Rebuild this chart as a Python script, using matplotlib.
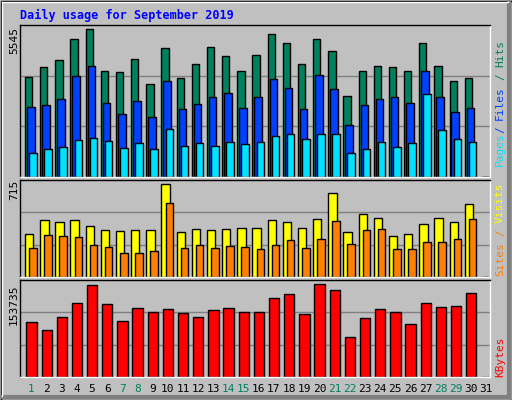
import matplotlib
matplotlib.use("Agg")
import matplotlib.pyplot as plt
from matplotlib.patches import Rectangle

days = list(range(1, 32))
hits = [3750,4110,4370,5165,5545,3960,3920,4440,3495,4820,3720,4250,4890,4550,3960,4590,
        5350,5010,4250,5190,4740,3040,3985,4170,4135,3985,5040,4170,3610,3720,0]
files = [2640,2680,2940,3770,4145,2790,2375,2855,2250,3605,2550,2740,3005,3155,2600,3005,
         3690,3345,2550,3835,3310,1950,2715,2940,3005,2790,3985,3005,2440,2600,0]
pages = [900,1055,1130,1395,1470,1345,1080,1270,1045,1795,1155,1270,1155,1310,1230,1310,
         1530,1610,1420,1610,1610,900,1055,1310,1130,1270,3125,1765,1420,1310,0]
sites = [326,435,420,435,389,357,350,357,357,715,342,365,357,365,373,373,
         435,420,373,443,645,342,482,451,311,326,404,451,420,559,0]
visits = [225,319,311,303,249,233,186,186,202,567,225,249,225,241,233,218,
          249,280,225,295,427,256,357,365,218,218,272,272,295,443,0]
kbytes = [91450,78000,98200,121700,152000,120000,93100,113300,106600,111600,104900,98200,
          110000,113300,106600,106600,130150,136900,103200,153735,143600,66200,96500,111600,
          106600,88100,121700,115000,116700,138600,0]
weekend = [1,7,8,14,15,21,22,28,29]

W, H = 512, 400
fig = plt.figure(figsize=(W/100, H/100), dpi=100, facecolor="#C0C0C0")
mono = "DejaVu Sans Mono"

def ax_at(x0, y0, x1, y1):
    a = fig.add_axes([x0/W, 1-y1/H, (x1-x0)/W, (y1-y0)/H])
    a.set_facecolor("#C0C0C0")
    a.set_xlim(0, 31)
    a.set_xticks([]); a.set_yticks([])
    for s in a.spines.values():
        s.set_linewidth(1)
    a.spines["left"].set_color("black"); a.spines["top"].set_color("black")
    a.spines["right"].set_color("white"); a.spines["bottom"].set_color("white")
    return a

def grid(a, ymax):
    a.set_ylim(0, ymax)
    for f in (1/3, 2/3):
        a.axhline(ymax*f, color="#808080", lw=1, zorder=0)

ek = dict(edgecolor="black", linewidth=1, align="edge", zorder=2)
x = [d-1 for d in days]

a1 = ax_at(20, 25, 490, 177)
grid(a1, 5696)
a1.bar([v+0.33 for v in x], hits, 0.48, color="#00805C", **ek)
a1.bar([v+0.46 for v in x], files, 0.5, color="#0040FF", **ek)
a1.bar([v+0.6 for v in x], pages, 0.5, color="#00E0FF", **ek)

a2 = ax_at(20, 180, 490, 277)
grid(a2, 744)
a2.bar([v+0.33 for v in x], sites, 0.55, color="#FFFF00", **ek)
a2.bar([v+0.6 for v in x], visits, 0.5, color="#FF8000", **ek)

a3 = ax_at(20, 280, 490, 377)
grid(a3, 159900)
a3.bar([v+0.42 for v in x], kbytes, 0.68, color="#FF0000", **ek)

fig.text(20/W, 1-15/H, "Daily usage for September 2019", family=mono, weight="bold",
         color="#0000FF", fontsize=8.5, va="center")
fig.text(14/W, 1-40/H, "5545", family=mono, fontsize=8, rotation=90, ha="center", va="center")
fig.text(14/W, 1-190/H, "715", family=mono, fontsize=8, rotation=90, ha="center", va="center")
fig.text(14/W, 1-305/H, "153735", family=mono, fontsize=8, rotation=90, ha="center", va="center")

CH = 6.6
def vlabel(parts, xpix, ybottom):
    y = ybottom
    for txt, col in parts:
        fig.text(xpix/W, 1-y/H, txt, family=mono, fontsize=8, rotation=90,
                 color=col, ha="center", va="bottom")
        y -= len(txt)*CH
vlabel([("Pages", "#00E0FF"), ("/", "#0040FF")], 500, 166)
vlabel([("Files", "#0040FF")], 500, 166-7*CH)
vlabel([("/", "#00805C")], 500, 166-13*CH)
vlabel([("Hits", "#00805C")], 500, 166-15*CH)
vlabel([("Sites", "#FF8000")], 500, 276)
vlabel([("/", "#FF8000")], 500, 276-6*CH)
vlabel([("Visits", "#FFFF00")], 500, 276-8*CH)
vlabel([("KBytes", "#FF0000")], 500, 377)

for d in days:
    fig.text((20 + (d-1+0.75)*470/31)/W, 1-389/H, str(d), family=mono, fontsize=8,
             color="#00805C" if d in weekend else "black", ha="center", va="center")

fa = fig.add_axes([0, 0, 1, 1], facecolor="none")
fa.set_xlim(0, W); fa.set_ylim(H, 0); fa.axis("off")
fa.add_patch(Rectangle((0.5, 0.5), W-1, H-1, fill=False, edgecolor="black", lw=1))
fa.plot([W-3, W-3], [2, H-3], color="#808080", lw=3)
fa.plot([2, W-3], [H-3, H-3], color="#808080", lw=3)
fa.plot([2, 2], [2, H-4], color="white", lw=1)
fa.plot([2, W-4], [2, 2], color="white", lw=1)

fig.savefig("out.png", dpi=100, facecolor=fig.get_facecolor())
